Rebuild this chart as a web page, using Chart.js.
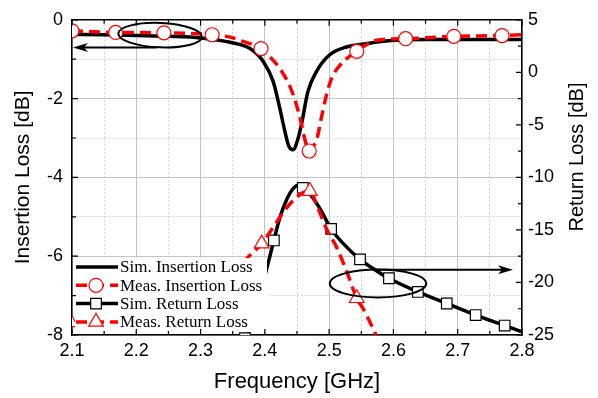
<!DOCTYPE html>
<html>
<head>
<meta charset="utf-8">
<script src="https://cdn.jsdelivr.net/npm/chart.js@4.4.1/dist/chart.umd.min.js"></script>
<style>
  html, body { margin: 0; padding: 0; background: #fff; }
</style>
</head>
<body>
<canvas id="grafico" width="598" height="398"></canvas>
<script>
// Datos (frecuencia en GHz, pérdidas en dB)
const simILFreq = [2.10, 2.15, 2.20, 2.25, 2.30, 2.346, 2.377, 2.398, 2.413, 2.423, 2.431, 2.437, 2.444, 2.451, 2.457, 2.467, 2.48, 2.50, 2.527, 2.56, 2.60, 2.65, 2.70, 2.75, 2.80];
const simIL = [-0.37, -0.38, -0.40, -0.42, -0.46, -0.57, -0.73, -1.07, -1.57, -2.23, -2.82, -3.2, -3.3, -3.05, -2.65, -1.82, -1.32, -0.9, -0.69, -0.6, -0.52, -0.5, -0.5, -0.5, -0.5];

const measILFreq = [2.10, 2.168, 2.243, 2.318, 2.346, 2.366, 2.394, 2.408, 2.423, 2.439, 2.449, 2.457, 2.462, 2.469, 2.475, 2.481, 2.488, 2.496, 2.504, 2.517, 2.543, 2.574, 2.619, 2.694, 2.769, 2.80];
const measIL = [-0.28, -0.32, -0.33, -0.38, -0.44, -0.55, -0.73, -0.94, -1.23, -1.69, -2.15, -2.65, -3.02, -3.33, -3.22, -3.02, -2.48, -1.9, -1.48, -1.15, -0.8, -0.52, -0.48, -0.42, -0.40, -0.38];
const measILMarkers = [2.10, 2.168, 2.243, 2.318, 2.394, 2.469, 2.543, 2.619, 2.694, 2.769];

const simRLFreq = [2.099, 2.144, 2.189, 2.234, 2.279, 2.324, 2.369, 2.385, 2.402, 2.414, 2.423, 2.434, 2.445, 2.452, 2.459, 2.47, 2.486, 2.503, 2.522, 2.548, 2.574, 2.593, 2.638, 2.683, 2.728, 2.773, 2.80];
const simRL = [-26.4, -26.2, -26.0, -25.9, -25.7, -25.5, -25.3, -22.8, -18.9, -16.0, -13.9, -12.1, -11.0, -10.75, -11.0, -11.6, -13.0, -14.9, -16.3, -17.8, -18.9, -19.6, -20.9, -22.0, -23.1, -24.1, -24.7];
const simRLMarkers = [2.099, 2.144, 2.189, 2.234, 2.279, 2.324, 2.369, 2.414, 2.459, 2.503, 2.548, 2.593, 2.638, 2.683, 2.728, 2.773];

const measRLFreq = [2.098, 2.17, 2.245, 2.32, 2.35, 2.377, 2.395, 2.408, 2.429, 2.444, 2.458, 2.47, 2.483, 2.496, 2.512, 2.527, 2.543, 2.553, 2.566, 2.58];
const measRL = [-23.8, -23.3, -22.3, -20.4, -19.0, -17.4, -16.3, -15.2, -13.3, -12.2, -11.5, -11.3, -13.0, -14.9, -16.7, -18.9, -21.5, -22.5, -24.1, -26.0];
const measRLMarkers = [2.098, 2.17, 2.245, 2.32, 2.395, 2.47, 2.543];

const etiquetas = ['Sim. Insertion Loss', 'Meas. Insertion Loss', 'Sim. Return Loss', 'Meas. Return Loss'];

// Ejes
const xMin = 2.1, xMax = 2.8, xPaso = 0.05;
const ilMin = -8, ilMax = 0, ilPaso = 1;
const rlMin = -25, rlMax = 5, rlPaso = 2.5;

const ROJO = '#ff0000';
const NEGRO = '#000000';

function serie(freq, vals) {
    return freq.map((f, i) => ({ x: f, y: vals[i] }));
}
function radio(marcas, r) {
    return c => (c.raw && marcas.includes(c.raw.x)) ? r : 0;
}
const esMayorX = v => Math.round(v * 100) % 10 === 0;
const esMayorIL = v => Math.round(v) % 2 === 0;
const esMayorRL = v => Math.round(v * 10) % 50 === 0;

Chart.defaults.font.family = "'Liberation Sans', Arial, sans-serif";
Chart.defaults.color = '#000';

// Leyenda, elipses, flechas, marco y ticks hacia dentro
const decoracion = {
    id: 'decoracion',
    afterDatasetsDraw(chart) {
        const { ctx, scales: { x, y, y2 } } = chart;
        ctx.save();

        // caja de leyenda
        ctx.fillStyle = '#fff';
        ctx.fillRect(75, 258, 192, 74);
        chart.data.datasets.forEach((ds, i) => {
            const fy = 267 + i * 18.3;
            ctx.save();
            ctx.strokeStyle = ds.borderColor;
            ctx.lineWidth = ds.borderWidth;
            ctx.setLineDash(ds.borderDash || []);
            ctx.beginPath();
            ctx.moveTo(76, fy);
            ctx.lineTo(118, fy);
            ctx.stroke();
            ctx.restore();
            if (ds.pointStyle) {
                ctx.fillStyle = '#fff';
                ctx.strokeStyle = ds.pointBorderColor;
                ctx.lineWidth = ds.pointBorderWidth;
                Chart.helpers.drawPoint(ctx, {
                    pointStyle: ds.pointStyle, radius: ds.legendRadius,
                    borderWidth: ds.pointBorderWidth, rotation: 0
                }, 96, fy);
            }
            ctx.fillStyle = '#000';
            ctx.font = "17px 'Liberation Serif', 'Times New Roman', serif";
            ctx.textAlign = 'left';
            ctx.textBaseline = 'middle';
            ctx.fillText(ds.label, 120, fy + 1);
        });

        // elipses y flechas que señalan el eje de cada par de curvas
        ctx.strokeStyle = '#000';
        ctx.fillStyle = '#000';
        ctx.lineWidth = 2;
        const elipse = (sx, sy, cx, cy, rx, ry, rot) => {
            const px = sx.getPixelForValue(cx), py = sy.getPixelForValue(cy);
            const prx = Math.abs(sx.getPixelForValue(cx + rx) - px);
            const pry = Math.abs(sy.getPixelForValue(cy + ry) - py);
            ctx.beginPath();
            ctx.ellipse(px, py, prx, pry, rot, 0, Math.PI * 2);
            ctx.stroke();
        };
        const flecha = (sx, sy, x1, y1, x2, y2v) => {
            const ax = sx.getPixelForValue(x1), ay = sy.getPixelForValue(y1);
            const bx = sx.getPixelForValue(x2), by = sy.getPixelForValue(y2v);
            const dir = Math.sign(bx - ax);
            ctx.beginPath();
            ctx.moveTo(ax, ay);
            ctx.lineTo(bx - dir * 10, by);
            ctx.stroke();
            ctx.beginPath();
            ctx.moveTo(bx, by);
            ctx.lineTo(bx - dir * 15, by - 4.5);
            ctx.lineTo(bx - dir * 11, by);
            ctx.lineTo(bx - dir * 15, by + 4.5);
            ctx.closePath();
            ctx.fill();
        };
        elipse(x, y, 2.237, -0.39, 0.065, 0.31, 0.04);
        flecha(x, y, 2.232, -0.7, 2.1015, -0.7);
        elipse(x, y2, 2.576, -20.1, 0.075, 1.33, 0);
        flecha(x, y2, 2.568, -18.78, 2.786, -18.78);
        ctx.restore();
    },
    afterDraw(chart) {
        const { ctx, chartArea: ca, scales: { x, y, y2 } } = chart;
        ctx.save();
        ctx.strokeStyle = '#000';
        ctx.lineWidth = 1.5;
        ctx.beginPath();
        ctx.moveTo(ca.left, ca.top);
        ctx.lineTo(ca.right, ca.top);
        ctx.stroke();

        ctx.lineWidth = 1.2;
        ctx.beginPath();
        x.ticks.forEach(t => {
            const p = x.getPixelForValue(t.value);
            const l = esMayorX(t.value) ? 6 : 4;
            ctx.moveTo(p, ca.bottom); ctx.lineTo(p, ca.bottom - l);
            ctx.moveTo(p, ca.top); ctx.lineTo(p, ca.top + l);
        });
        y.ticks.forEach(t => {
            const p = y.getPixelForValue(t.value);
            const l = esMayorIL(t.value) ? 6 : 4;
            ctx.moveTo(ca.left, p); ctx.lineTo(ca.left + l, p);
        });
        y2.ticks.forEach(t => {
            const p = y2.getPixelForValue(t.value);
            const l = esMayorRL(t.value) ? 6 : 4;
            ctx.moveTo(ca.right, p); ctx.lineTo(ca.right - l, p);
        });
        ctx.stroke();

        // título del eje derecho, leído de abajo hacia arriba
        ctx.translate(577, 157);
        ctx.rotate(-Math.PI / 2);
        ctx.fillStyle = '#000';
        ctx.font = "20px 'Liberation Sans', Arial, sans-serif";
        ctx.textAlign = 'center';
        ctx.textBaseline = 'middle';
        ctx.fillText('Return Loss [dB]', 0, 0);
        ctx.restore();
    }
};

const ctx = document.getElementById('grafico').getContext('2d');
const grafico = new Chart(ctx, {
    type: 'line',
    data: {
        datasets: [{
            label: etiquetas[0],
            data: serie(simILFreq, simIL),
            yAxisID: 'y',
            borderColor: NEGRO,
            borderWidth: 3.5,
            pointRadius: 0,
            order: 2
        }, {
            label: etiquetas[1],
            data: serie(measILFreq, measIL),
            yAxisID: 'y',
            borderColor: ROJO,
            borderWidth: 3.5,
            borderDash: [11, 6],
            pointStyle: 'circle',
            pointRadius: radio(measILMarkers, 7),
            legendRadius: 7,
            pointBackgroundColor: '#fff',
            pointBorderColor: ROJO,
            pointBorderWidth: 1.2,
            order: 1
        }, {
            label: etiquetas[2],
            data: serie(simRLFreq, simRL),
            yAxisID: 'y2',
            borderColor: NEGRO,
            borderWidth: 3.5,
            pointStyle: 'rect',
            pointRadius: radio(simRLMarkers, 7.5),
            legendRadius: 7.5,
            pointBackgroundColor: '#fff',
            pointBorderColor: NEGRO,
            pointBorderWidth: 1.2,
            order: 2
        }, {
            label: etiquetas[3],
            data: serie(measRLFreq, measRL),
            yAxisID: 'y2',
            borderColor: ROJO,
            borderWidth: 3.5,
            borderDash: [11, 6],
            pointStyle: 'triangle',
            pointRadius: radio(measRLMarkers, 8.5),
            legendRadius: 8.5,
            pointBackgroundColor: '#fff',
            pointBorderColor: ROJO,
            pointBorderWidth: 1.2,
            order: 1
        }]
    },
    options: {
        responsive: false,
        animation: false,
        events: [],
        clip: 0,
        layout: { padding: { top: 14, left: 0, right: 0, bottom: 0 } },
        elements: { line: { cubicInterpolationMode: 'monotone' } },
        plugins: { legend: { display: false }, tooltip: { enabled: false } },
        scales: {
            x: {
                type: 'linear',
                min: xMin, max: xMax,
                afterFit: s => { s.height = 63; },
                ticks: {
                    stepSize: xPaso, autoSkip: false, maxRotation: 0, padding: 5,
                    font: { size: 18 },
                    callback: v => esMayorX(v) ? v.toFixed(1) : ''
                },
                grid: {
                    drawTicks: false,
                    color: c => c.tick && esMayorX(c.tick.value) ? '#c4c4c4' : '#d4d4d4',
                    lineWidth: 1
                },
                border: {
                    color: '#000', width: 1.5,
                    dash: c => c.tick && !esMayorX(c.tick.value) ? [2, 2] : []
                },
                title: {
                    display: true, text: 'Frequency [GHz]',
                    font: { size: 22 }, padding: { top: 0, bottom: 3 }
                }
            },
            y: {
                position: 'left',
                min: ilMin, max: ilMax,
                afterFit: s => { s.width = 72; },
                ticks: {
                    stepSize: ilPaso, padding: 9, font: { size: 18 },
                    callback: v => esMayorIL(v) ? String(v) : ''
                },
                grid: {
                    drawTicks: false,
                    color: c => c.tick && esMayorIL(c.tick.value) ? '#c4c4c4' : '#d4d4d4',
                    lineWidth: 1
                },
                border: {
                    color: '#000', width: 1.5,
                    dash: c => c.tick && !esMayorIL(c.tick.value) ? [2, 2] : []
                },
                title: {
                    display: true, text: 'Insertion Loss [dB]',
                    font: { size: 21 }, padding: { top: 11, bottom: 0 }
                }
            },
            y2: {
                position: 'right',
                min: rlMin, max: rlMax,
                afterFit: s => { s.width = 76; },
                ticks: {
                    stepSize: rlPaso, padding: 6, font: { size: 18 },
                    callback: v => esMayorRL(v) ? String(v) : ''
                },
                grid: { drawOnChartArea: false, drawTicks: false },
                border: { color: '#000', width: 1.5 }
            }
        }
    },
    plugins: [decoracion]
});
</script>
</body>
</html>
